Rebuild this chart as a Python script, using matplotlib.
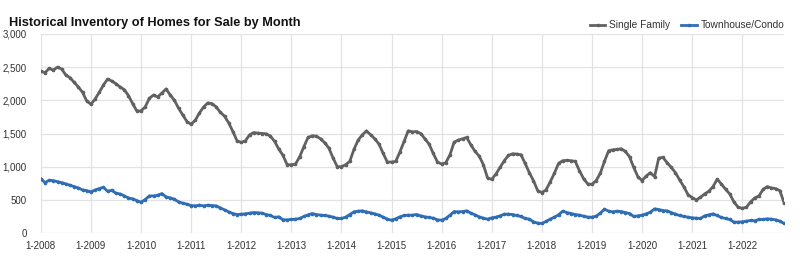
import matplotlib
matplotlib.use("Agg")
import matplotlib.pyplot as plt
from matplotlib import font_manager
from matplotlib.ticker import FuncFormatter

years = list(range(2008, 2023))

single_family = [
    2440, 2415, 2480, 2455, 2500, 2470, 2380, 2340, 2270, 2200, 2120, 1990,  # 2008
    1940, 2020, 2120, 2230, 2320, 2290, 2250, 2200, 2160, 2070, 1950, 1840,  # 2009
    1840, 1900, 2030, 2080, 2050, 2110, 2170, 2080, 2000, 1880, 1780, 1680,  # 2010
    1640, 1700, 1810, 1900, 1960, 1950, 1900, 1820, 1760, 1660, 1530, 1390,  # 2011
    1365, 1390, 1480, 1515, 1505, 1500, 1495, 1460, 1380, 1265, 1170, 1030,  # 2012
    1030, 1040, 1150, 1300, 1440, 1465, 1460, 1420, 1360, 1280, 1130, 1000,  # 2013
    1000, 1030, 1080, 1260, 1400, 1480, 1540, 1480, 1420, 1340, 1200, 1070,  # 2014
    1070, 1080, 1220, 1380, 1540, 1525, 1530, 1500, 1420, 1340, 1200, 1070,  # 2015
    1040, 1060, 1180, 1370, 1400, 1420, 1440, 1330, 1230, 1160, 1030, 830,   # 2016
    810, 890, 990, 1090, 1170, 1195, 1190, 1180, 1050, 910, 790, 640,        # 2017
    610, 650, 770, 900, 1050, 1090, 1095, 1090, 1080, 940, 820, 740,         # 2018
    735, 790, 900, 1080, 1240, 1255, 1260, 1270, 1230, 1150, 990, 850,       # 2019
    790, 860, 910, 850, 1130, 1140, 1060, 990, 910, 800, 700, 580,           # 2020
    535, 500, 540, 590, 630, 700, 810, 740, 660, 590, 470, 390,              # 2021
    372, 390, 470, 530, 560, 660, 700, 680, 670, 640, 460,                   # 2022
]

townhouse_condo = [
    820, 760, 795, 790, 775, 760, 740, 720, 700, 680, 650, 640,   # 2008
    620, 650, 670, 690, 630, 645, 600, 590, 560, 530, 515, 490,   # 2009
    465, 505, 560, 560, 570, 595, 545, 530, 510, 470, 450, 435,   # 2010
    415, 410, 420, 410, 420, 415, 410, 380, 350, 320, 295, 280,   # 2011
    285, 290, 300, 310, 305, 300, 280, 265, 235, 245, 200, 200,   # 2012
    205, 210, 220, 250, 275, 295, 280, 270, 265, 255, 240, 220,   # 2013
    220, 240, 280, 320, 330, 335, 320, 305, 290, 270, 240, 210,   # 2014
    195, 215, 245, 265, 270, 270, 280, 260, 245, 235, 225, 200,   # 2015
    195, 220, 270, 325, 320, 325, 335, 300, 275, 245, 225, 210,   # 2016
    230, 240, 260, 285, 285, 280, 265, 250, 220, 210, 170, 150,   # 2017
    145, 175, 210, 240, 275, 330, 310, 295, 280, 270, 255, 240,   # 2018
    240, 255, 300, 360, 330, 320, 330, 325, 310, 295, 250, 260,   # 2019
    270, 290, 315, 365, 355, 340, 335, 310, 285, 265, 250, 240,   # 2020
    230, 225, 220, 260, 275, 290, 265, 235, 220, 205, 165, 165,   # 2021
    170, 180, 190, 185, 205, 205, 215, 210, 200, 180, 145,        # 2022
]

tick_labels = [f"1-{y}" for y in years]

plt.rcParams["font.family"] = ["Liberation Sans", "DejaVu Sans"]

# the title in the original is a condensed bold face; use a narrow one if present
installed = {f.name for f in font_manager.fontManager.ttflist}
if "Liberation Sans Narrow" in installed:
    title_family, title_size = ["Liberation Sans Narrow", "DejaVu Sans"], 10.8
else:
    title_family, title_size = ["Liberation Sans", "DejaVu Sans"], 9.2

fig = plt.figure(figsize=(8.0, 2.67), dpi=100)
ax = fig.add_axes([0.051, 0.127, 0.929, 0.746])

months = list(range(len(single_family)))
ax.plot(months, single_family, color="#616161", lw=2.0, marker="o", ms=1.6,
        label="Single Family", zorder=3)
ax.plot(months, townhouse_condo, color="#2f6db5", lw=2.0, marker="o", ms=1.6,
        label="Townhouse/Condo", zorder=3)

ax.set_xlim(0, len(single_family) - 1)
ax.set_ylim(0, 3000)
ax.set_xticks([12 * i for i in range(len(years))])
ax.set_xticklabels(tick_labels)
ax.set_yticks(range(0, 3001, 500))
ax.yaxis.set_major_formatter(FuncFormatter(lambda v, _: f"{int(v):,}"))

ax.grid(True, color="#e2e2e2", lw=0.9, zorder=0)
for s in ax.spines.values():
    s.set_visible(False)
ax.tick_params(axis="both", length=0, labelsize=7, colors="#333333")
ax.tick_params(axis="x", pad=6)
ax.tick_params(axis="y", pad=10)

fig.text(0.011, 0.915, "Historical Inventory of Homes for Sale by Month",
         fontsize=title_size, fontweight="bold", family=title_family,
         color="#111111", va="center")

fig.legend(loc="center right", bbox_to_anchor=(0.992, 0.905), ncol=2,
           frameon=False, fontsize=7.3, handlelength=1.5, columnspacing=1.1,
           handletextpad=0.4, labelcolor="#333333")

fig.savefig("out.png", dpi=100)
